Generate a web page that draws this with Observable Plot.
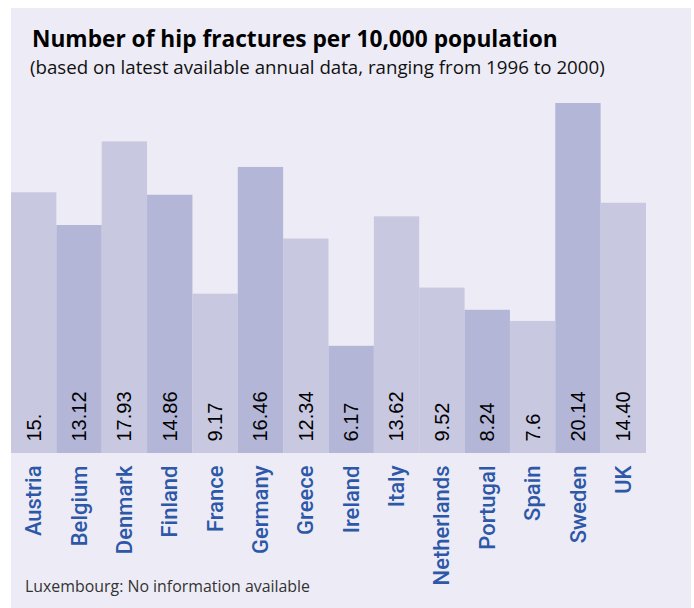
<!DOCTYPE html>
<html>
<head>
<meta charset="utf-8">
<script src="https://cdn.jsdelivr.net/npm/d3@7"></script>
<script src="https://cdn.jsdelivr.net/npm/@observablehq/plot@0.6"></script>
<style>
  html, body { margin: 0; padding: 0; background: #ffffff; }
  #panel { position: absolute; left: 11px; top: 8px; width: 680px; height: 600px; background: #EDECF6; overflow: hidden; }
  .t { position: absolute; white-space: nowrap; line-height: 1; font-family: "Open Sans", "Liberation Sans", Arial, sans-serif; }
  #title { left: 21px; top: 19.5px; font-size: 22.7px; font-weight: 700; color: #000; }
  #subtitle { left: 19px; top: 49.5px; font-size: 18.7px; color: #111; }
  #note { left: 14px; top: 571px; font-size: 15.9px; color: #333; }
  #chart { position: absolute; left: 0; top: 0; }
</style>
</head>
<body>
<div id="panel">
  <div id="chart"></div>
  <div class="t" id="title">Number of hip fractures per 10,000 population</div>
  <div class="t" id="subtitle">(based on latest available annual data, ranging from 1996 to 2000)</div>
  <div class="t" id="note">Luxembourg: No information available</div>
</div>
<script>
const countries = ["Austria","Belgium","Denmark","Finland","France","Germany","Greece","Ireland","Italy","Netherlands","Portugal","Spain","Sweden","UK"];
const values = [15.0, 13.12, 17.93, 14.86, 9.17, 16.46, 12.34, 6.17, 13.62, 9.52, 8.24, 7.6, 20.14, 14.40];
const valueLabels = ["15.","13.12","17.93","14.86","9.17","16.46","12.34","6.17","13.62","9.52","8.24","7.6","20.14","14.40"];

const darkBars = new Set(["Belgium","Finland","Germany","Ireland","Portugal","Sweden"]);
const data = countries.map((c, i) => ({country: c, value: values[i], label: valueLabels[i]}));

const chart = Plot.plot({
  width: 680,
  height: 600,
  marginLeft: 0,
  marginRight: 45,
  marginTop: 95,
  marginBottom: 155,
  style: {background: "transparent", fontFamily: "Liberation Sans, Arial, sans-serif"},
  x: {domain: countries, padding: 0, round: false},
  y: {domain: [0, 20.14], axis: null},
  marks: [
    Plot.barY(data, {x: "country", y: "value", fill: d => darkBars.has(d.country) ? "#B3B6D7" : "#C8C8E1"}),
    Plot.text(data, {
      x: "country", y: d => 0, text: "label", rotate: -90,
      textAnchor: "start", lineAnchor: "middle", dy: -12,
      fontSize: 20, fill: "#000", fontFamily: "Liberation Sans, Arial, sans-serif"
    }),
    Plot.axisX({
      tickSize: 0, tickPadding: 12, tickRotate: -90, label: null,
      fontSize: 22, fill: "#2D58A8", fontFamily: "Roboto, sans-serif", fontWeight: 500
    })
  ]
});
document.getElementById("chart").appendChild(chart);
</script>
</body>
</html>
